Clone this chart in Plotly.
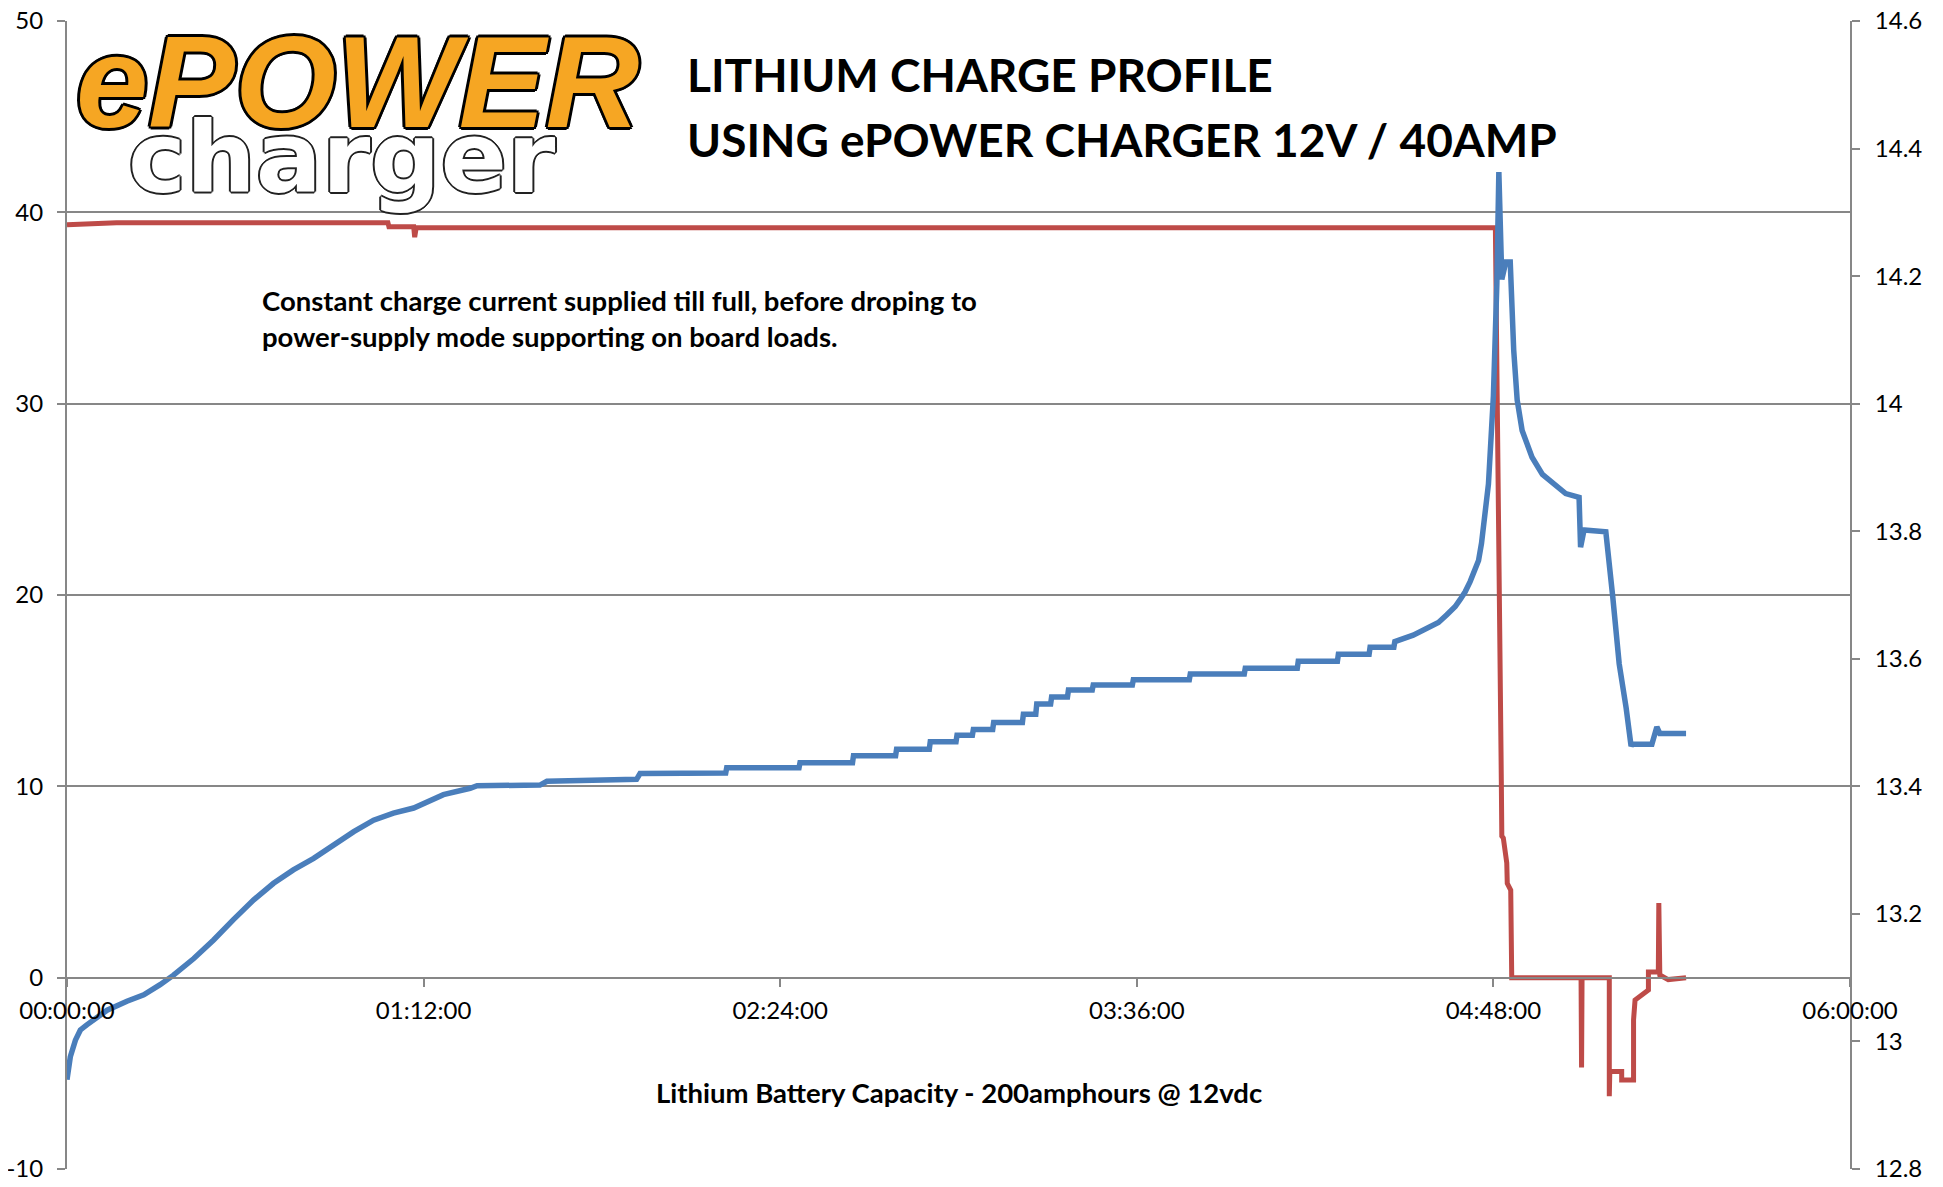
import pandas as pd
import plotly.graph_objects as go

# ---- data ----
# Battery voltage (right axis, V) vs elapsed minutes
volt_minutes = [0.0, 0.67, 1.7, 2.7, 4.0, 5.4, 8.1, 12.1, 15.5, 18.8, 21.5, 25.6, 29.6, 33.6, 37.7,
                41.7, 45.7, 49.8, 53.8, 57.9, 61.9, 65.9, 70.0, 72.7, 76.0, 81.4, 82.8, 95.5, 96.9,
                115.0, 115.7, 133.0, 133.2, 147.8, 148.0, 158.6, 158.8, 167.3, 167.5, 174.1, 174.3,
                179.5, 179.7, 182.8, 183.0, 186.9, 187.1, 192.9, 193.1, 195.6, 195.8, 198.6, 198.8,
                202.0, 202.2, 207.0, 207.2, 215.1, 215.3, 226.6, 226.8, 237.7, 237.9, 248.4, 248.6,
                256.5, 256.7, 262.9, 263.1, 267.9, 268.1, 271.8, 274.5, 276.9, 278.6, 280.3, 281.3,
                282.3, 283.3, 284.3, 285.0, 285.6, 287.0, 288.0, 288.7, 289.1, 289.7, 290.5, 291.4,
                292.1, 292.8, 293.8, 295.8, 297.9, 299.9, 302.6, 305.3, 305.6, 306.3, 310.7, 312.1,
                313.4, 314.8, 315.8, 316.0, 320.0, 321.0, 321.6, 326.9]
volt_values = [12.940, 12.976, 13.002, 13.018, 13.026, 13.034, 13.049, 13.063, 13.073, 13.089, 13.104,
               13.130, 13.159, 13.191, 13.222, 13.248, 13.269, 13.287, 13.308, 13.329, 13.347, 13.358,
               13.366, 13.376, 13.387, 13.397, 13.401, 13.402, 13.408, 13.411, 13.420, 13.421, 13.429,
               13.429, 13.437, 13.437, 13.448, 13.448, 13.458, 13.458, 13.470, 13.470, 13.480, 13.480,
               13.489, 13.489, 13.500, 13.500, 13.513, 13.513, 13.529, 13.529, 13.540, 13.540, 13.551,
               13.551, 13.559, 13.559, 13.567, 13.567, 13.576, 13.576, 13.585, 13.585, 13.596, 13.596,
               13.607, 13.607, 13.618, 13.618, 13.627, 13.637, 13.647, 13.657, 13.669, 13.682, 13.693,
               13.705, 13.721, 13.739, 13.754, 13.781, 13.874, 14.012, 14.189, 14.363, 14.195, 14.222,
               14.222, 14.084, 14.006, 13.958, 13.916, 13.889, 13.877, 13.859, 13.853, 13.775, 13.802,
               13.799, 13.697, 13.592, 13.523, 13.463, 13.466, 13.466, 13.493, 13.483, 13.483]

# Charge current (left axis, A) vs elapsed minutes
amp_minutes = [0.0, 10.0, 64.8, 65.0, 70.0, 70.2, 70.5, 288.4, 289.6, 289.8, 289.7, 290.0, 290.7,
               290.8, 291.5, 291.7, 305.7, 305.8, 305.9, 311.4, 311.4, 311.5, 313.9, 313.9, 316.3,
               316.3, 316.6, 319.3, 319.3, 321.3, 321.4, 321.6, 323.3, 326.9]
amp_values = [39.35, 39.45, 39.45, 39.25, 39.25, 38.7, 39.2, 39.2, 10.3, 8.6, 7.4, 7.3, 6.0,
              4.93, 4.58, 0.0, 0.0, -4.7, 0.0, 0.0, -6.2, -4.9, -4.9, -5.35, -5.35,
              -2.2, -1.17, -0.64, 0.3, 0.3, 3.9, 0.14, -0.1, 0.0]

left_ticks = [-10, 0, 10, 20, 30, 40, 50]
left_tick_labels = ["-10", "0", "10", "20", "30", "40", "50"]
right_ticks = [12.8, 13.0, 13.2, 13.4, 13.6, 13.8, 14.0, 14.2, 14.4, 14.6]
right_tick_labels = ["12.8", "13", "13.2", "13.4", "13.6", "13.8", "14", "14.2", "14.4", "14.6"]
x_tick_minutes = [0, 72, 144, 216, 288, 360]
x_tick_labels = ["00:00:00", "01:12:00", "02:24:00", "03:36:00", "04:48:00", "06:00:00"]

# ---- build figure ----
base = pd.Timestamp("2000-01-01")
def to_time(mins):
    return [base + pd.Timedelta(minutes=m) for m in mins]

GRID = "#878787"
RED = "#BE4B48"
BLUE = "#4A7EBB"
FONT = "Lato, 'Liberation Sans', Arial, sans-serif"

fig = go.Figure()
fig.add_trace(go.Scatter(x=to_time(amp_minutes), y=amp_values, mode="lines",
                         line=dict(color=RED, width=5), yaxis="y", showlegend=False))
fig.add_trace(go.Scatter(x=to_time(volt_minutes), y=volt_values, mode="lines",
                         line=dict(color=BLUE, width=5.5), yaxis="y2", showlegend=False))

outline = ", ".join(f"{dx}px {dy}px 0 #000" for dx, dy in
                    [(3, 0), (-3, 0), (0, 3), (0, -3), (2, 2), (-2, -2), (2, -2), (-2, 2)])
outline_thin = ", ".join(f"{dx}px {dy}px 0 #222" for dx, dy in
                         [(2, 0), (-2, 0), (0, 2), (0, -2), (1, 1), (-1, -1), (1, -1), (-1, 1)])

annotations = [
    dict(text="ePOWER", x=0.004, y=0.947, xref="paper", yref="paper", xanchor="left", yanchor="middle",
         showarrow=False,
         font=dict(family="'Liberation Sans', Arial, sans-serif", size=130, color="#F6A623",
                   weight="bold", style="italic", shadow=outline)),
    dict(text="charger", x=0.033, y=0.881, xref="paper", yref="paper", xanchor="left", yanchor="middle",
         showarrow=False,
         font=dict(family="'DejaVu Sans', sans-serif", size=98, color="#FFFFFF", weight="bold",
                   shadow=outline_thin)),
    dict(text="LITHIUM CHARGE PROFILE", x=0.3467, y=0.9538, xref="paper", yref="paper",
         xanchor="left", yanchor="middle", showarrow=False,
         font=dict(family=FONT, size=46, color="#000000", weight="bold")),
    dict(text="USING ePOWER CHARGER 12V / 40AMP", x=0.3467, y=0.8972, xref="paper", yref="paper",
         xanchor="left", yanchor="middle", showarrow=False,
         font=dict(family=FONT, size=46, color="#000000", weight="bold")),
    dict(text="Constant charge current supplied till full, before droping to<br>"
              "power-supply mode supporting on board loads.",
         x=(260 - 66.7) / 1783.3, y=0.741, xref="paper", yref="paper", xanchor="left",
         yanchor="middle", align="left", showarrow=False,
         font=dict(family=FONT, size=27.5, color="#000000", weight="bold")),
    dict(text="Lithium Battery Capacity - 200amphours @ 12vdc", x=0.5, y=0.067,
         xref="paper", yref="paper", xanchor="center", yanchor="middle", showarrow=False,
         font=dict(family=FONT, size=27.5, color="#000000", weight="bold")),
]

# The page body has an 8px margin, so the figure is sized/margined to put the
# plot area at x 67..1850, y 21..1169 in the 1943x1187 window.
fig.update_layout(
    width=1935, height=1179,
    margin=dict(l=59, r=93, t=13, b=18),
    paper_bgcolor="white", plot_bgcolor="white",
    font=dict(family=FONT, size=24, color="#000000"),
    xaxis=dict(type="date", range=[base, base + pd.Timedelta(minutes=360)],
               anchor="free", position=1 / 6, automargin=False, ticklabeloverflow="allow",
               tickvals=to_time(x_tick_minutes), ticktext=x_tick_labels,
               showgrid=False, showline=True, linecolor=GRID, linewidth=2,
               ticks="outside", ticklen=8, tickwidth=1.5, tickcolor=GRID, ticklabelstandoff=4,
               tickfont=dict(family=FONT, size=24, color="#000000"), zeroline=False),
    yaxis=dict(range=[-10, 50], tickvals=left_ticks, ticktext=left_tick_labels,
               showgrid=True, gridcolor=GRID, gridwidth=2,
               showline=True, linecolor=GRID, linewidth=2, ticks="outside", ticklen=8,
               tickwidth=2, tickcolor=GRID, zeroline=False, ticklabelstandoff=9, automargin=False,
               ticklabeloverflow="allow",
               tickfont=dict(family=FONT, size=24, color="#000000")),
    yaxis2=dict(range=[12.8, 14.6], overlaying="y", side="right", tickvals=right_ticks,
                ticktext=right_tick_labels, showgrid=False, showline=True, linecolor=GRID,
                linewidth=2, ticks="outside", ticklen=8, tickwidth=1.5, tickcolor=GRID,
                zeroline=False, ticklabelstandoff=10, automargin=False, ticklabeloverflow="allow",
                tickfont=dict(family=FONT, size=24, color="#000000")),
    annotations=annotations,
    shapes=[dict(type="line", xref="paper", yref="paper", x0=1.0498, x1=1.0498, y0=-0.02, y1=1.02,
                 line=dict(color="#A0A0A0", width=3))],
)

fig.write_html("out.html")
